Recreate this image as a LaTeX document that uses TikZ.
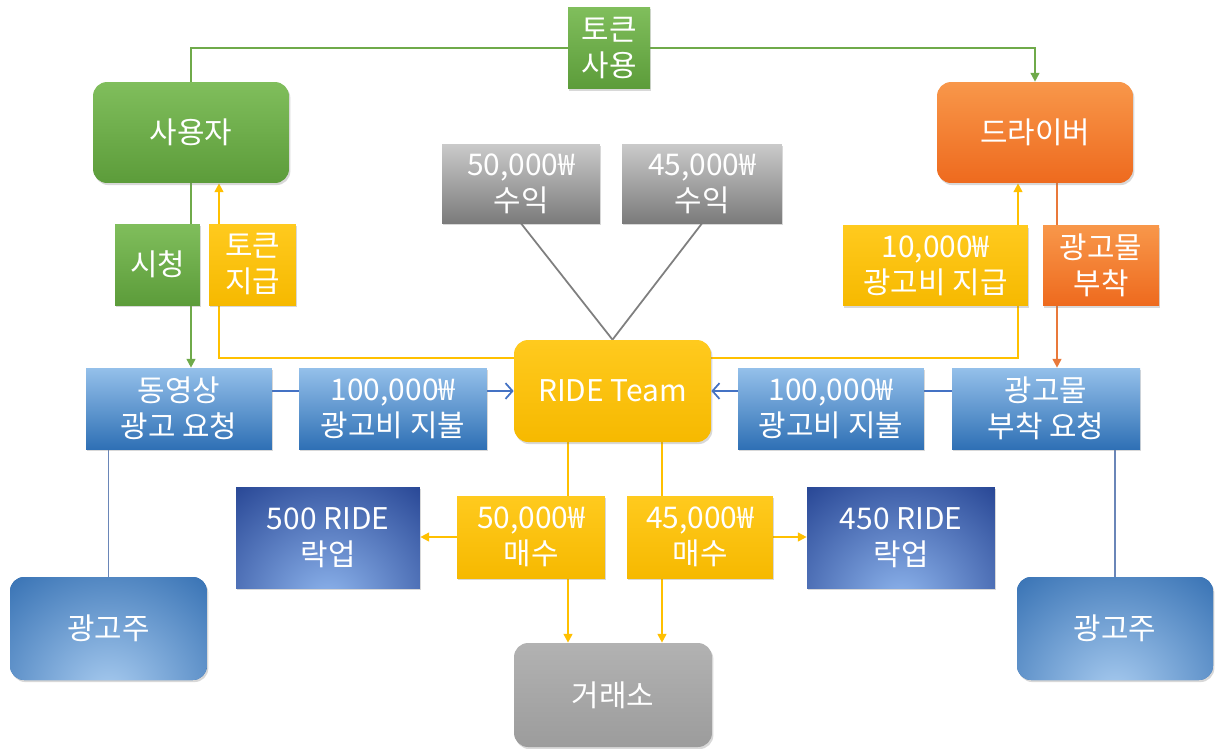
\documentclass[tikz,border=0pt]{standalone}
\usepackage{fontspec}
\newfontfamily\kr{Noto Sans CJK KR}
\usetikzlibrary{arrows.meta, shadows, backgrounds}

\definecolor{grnTop}{HTML}{80BE5C}
\definecolor{grnBot}{HTML}{5C9C3A}
\definecolor{grnLine}{HTML}{6FAA4A}
\definecolor{orgTop}{HTML}{F8974A}
\definecolor{orgBot}{HTML}{EE6A1E}
\definecolor{orgLine}{HTML}{E9793A}
\definecolor{goldTop}{HTML}{FFCA1E}
\definecolor{goldBot}{HTML}{F6B900}
\definecolor{goldLine}{HTML}{FFC000}
\definecolor{gryTop}{HTML}{CACACA}
\definecolor{gryBot}{HTML}{7B7B7B}
\definecolor{gryLine}{HTML}{7F7F7F}
\definecolor{bluTop}{HTML}{94C0EA}
\definecolor{bluBot}{HTML}{2F70B5}
\definecolor{bluLine}{HTML}{4472C4}
\definecolor{bgLine}{HTML}{6A86B8}
\definecolor{navy}{HTML}{213F8F}
\definecolor{navyGlow}{HTML}{8FB6EE}
\definecolor{advBlue}{HTML}{2C69AE}
\definecolor{advGlow}{HTML}{A9CCF0}
\definecolor{xgTop}{HTML}{B2B2B2}
\definecolor{xgBot}{HTML}{9C9C9C}

\begin{document}
\begin{tikzpicture}[x=0.02cm, y=-0.02cm,
  card/.style={font=\kr\fontsize{17}{20.5}\selectfont, text=white, align=center,
    inner sep=0pt, drop shadow={shadow xshift=0.8pt, shadow yshift=-1.2pt, opacity=0.3}},
  grnbox/.style={card, top color=grnTop, bottom color=grnBot},
  orgbox/.style={card, top color=orgTop, bottom color=orgBot},
  goldbox/.style={card, top color=goldTop, bottom color=goldBot},
  grybox/.style={card, top color=gryTop, bottom color=gryBot},
  blubox/.style={card, top color=bluTop, bottom color=bluBot},
  lockbox/.style={card, fill=navy, path picture={
      \shade[inner color=navyGlow, outer color=navy]
        ([yshift=-0.3cm]path picture bounding box.south) circle (3.2cm);}},
  advbox/.style={card, fill=advBlue, rounded corners=8pt, path picture={
      \shade[inner color=advGlow, outer color=advBlue]
        ([yshift=-0.3cm]path picture bounding box.south) circle (3.4cm);}},
  xbox/.style={card, top color=xgTop, bottom color=xgBot, rounded corners=8pt},
  gline/.style={draw=grnLine, line width=1pt},
  yline/.style={draw=goldLine, line width=1pt},
  oline/.style={draw=orgLine, line width=1pt},
  bline/.style={draw=bluLine, line width=1pt},
  bgl/.style={draw=bgLine, line width=1pt},
  kline/.style={draw=gryLine, line width=1pt},
  arr/.style={-{Triangle[length=5pt, width=5pt]}},
  barr/.style={-{Straight Barb[length=4pt, width=9pt]}}
]
  \useasboundingbox (0,0) rectangle (1216,748);

  \node[grnbox, minimum width=1.64cm, minimum height=1.64cm] (tokenuse) at (609,48) {토큰\\사용};
  \node[grnbox, rounded corners=8pt, minimum width=3.92cm, minimum height=2.02cm] (user) at (191,132.5) {사용자};
  \node[orgbox, rounded corners=8pt, minimum width=3.92cm, minimum height=2.02cm] (driver) at (1035,132.5) {드라이버};
  \node[grybox, minimum width=3.16cm, minimum height=1.58cm] (rev1) at (521,183.5) {50,000₩\\수익};
  \node[grybox, minimum width=3.2cm, minimum height=1.58cm] (rev2) at (702,183.5) {45,000₩\\수익};

  \node[grnbox, minimum width=1.7cm, minimum height=1.62cm] (watch) at (157.5,264.5) {시청};
  \node[goldbox, minimum width=1.74cm, minimum height=1.62cm] (tokpay) at (252.5,264.5) {토큰\\지급};
  \node[goldbox, minimum width=3.7cm, minimum height=1.6cm] (adpay) at (935.5,265.5) {10,000₩\\광고비 지급};
  \node[orgbox, minimum width=2.32cm, minimum height=1.6cm] (attach) at (1101,265.5) {광고물\\부착};

  \node[blubox, minimum width=3.72cm, minimum height=1.62cm] (vidreq) at (179,408.5) {동영상\\광고 요청};
  \node[blubox, minimum width=3.76cm, minimum height=1.62cm] (feeL) at (393,408.5) {100,000₩\\광고비 지불};
  \node[goldbox, rounded corners=8pt, minimum width=3.94cm, minimum height=2.04cm] (ride) at (612.5,391) {RIDE Team};
  \node[blubox, minimum width=3.72cm, minimum height=1.62cm] (feeR) at (831,408.5) {100,000₩\\광고비 지불};
  \node[blubox, minimum width=3.76cm, minimum height=1.62cm] (attreq) at (1046,408.5) {광고물\\부착 요청};

  \node[lockbox, minimum width=3.68cm, minimum height=2.02cm] (lockL) at (328,537.5) {500 RIDE\\락업};
  \node[goldbox, minimum width=2.96cm, minimum height=1.64cm] (buyL) at (531,537) {50,000₩\\매수};
  \node[goldbox, minimum width=2.92cm, minimum height=1.64cm] (buyR) at (700,537) {45,000₩\\매수};
  \node[lockbox, minimum width=3.76cm, minimum height=2.02cm] (lockR) at (901,537.5) {450 RIDE\\락업};

  \node[advbox, minimum width=3.94cm, minimum height=2.06cm] (advL) at (108.5,628.5) {광고주};
  \node[advbox, minimum width=3.92cm, minimum height=2.06cm] (advR) at (1115,628.5) {광고주};
  \node[xbox, minimum width=3.96cm, minimum height=2.08cm] (xchg) at (613,695) {거래소};

  \coordinate (dtop) at ([xshift=0.44cm]driver.south);
  \coordinate (rdL) at ([xshift=-0.89cm]ride.south);
  \coordinate (rdR) at ([xshift=0.99cm]ride.south);

  \begin{scope}[on background layer]
    \fill[white] (0,0) rectangle (1216,748);
    \draw[gline] (user.north) |- (tokenuse.west);
    \draw[gline, arr] (tokenuse.east) -| (driver.north);
    \draw[gline, arr] (user.south) -- (user.south |- vidreq.north);
    \draw[yline, arr] ([yshift=-0.36cm]ride.north west) -| ([xshift=0.56cm]user.south);
    \draw[yline, arr] ([yshift=-0.36cm]ride.north east) -| ([xshift=-0.34cm]driver.south);
    \draw[oline, arr] (dtop) -- (dtop |- attreq.north);
    \draw[kline] (rev1.south) -- (ride.north);
    \draw[kline] (rev2.south) -- (ride.north);
    \draw[bline, barr] (vidreq.east |- ride.west) -- (ride.west);
    \draw[bline, barr] (attreq.west |- ride.east) -- (ride.east);
    \draw[bgl] (vidreq.south -| advL.north) -- (advL.north);
    \draw[bgl] (attreq.south -| advR.north) -- (advR.north);
    \draw[yline, arr] (rdL) -- (rdL |- xchg.north);
    \draw[yline, arr] (rdR) -- (rdR |- xchg.north);
    \draw[yline, arr] (buyL.west) -- (buyL.west -| lockL.east);
    \draw[yline, arr] (buyR.east) -- (buyR.east -| lockR.west);
  \end{scope}
\end{tikzpicture}
\end{document}
